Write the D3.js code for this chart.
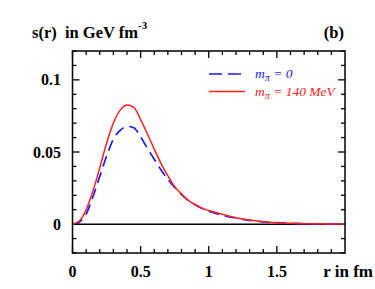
<!DOCTYPE html>
<html><head><meta charset="utf-8">
<script src="https://cdn.jsdelivr.net/npm/d3@7"></script>
<style>html,body{margin:0;padding:0;background:#fff;}svg{display:block;}</style>
</head><body>
<svg id="c" width="375" height="289"></svg>
<script>
const rValues = [0,0.05,0.1,0.15,0.2,0.25,0.3,0.35,0.4,0.45,0.5,0.55,0.6,0.65,0.7,0.75,0.8,0.85,0.9,0.95,1.0,1.1,1.2,1.3,1.4,1.5,1.6,1.7,1.8,1.9,2.0];
const sMassless = [0,0.0015,0.007,0.019,0.033,0.047,0.059,0.065,0.0678,0.0668,0.0605,0.0525,0.045,0.0375,0.031,0.0255,0.0205,0.0165,0.0135,0.011,0.009,0.0062,0.0042,0.0026,0.0016,0.001,0.0006,0.0003,0.0002,0.0001,0.00005];
const sMassive = [0,0.0022,0.010,0.023,0.039,0.056,0.070,0.079,0.0825,0.081,0.0725,0.0625,0.052,0.042,0.0335,0.026,0.021,0.0165,0.0135,0.011,0.0095,0.0068,0.0045,0.0028,0.0017,0.001,0.0006,0.0003,0.0002,0.0001,0.00005];
const xTickLabels = ["0","0.5","1","1.5"];
const xTickValues = [0,0.5,1,1.5];
const yTickLabels = ["0","0.05","0.1"];
const yTickValues = [0,0.05,0.1];

const svg = d3.select("#c");
const L=72.5, R=345, T=51, B=253;
const x = d3.scaleLinear().domain([0,2]).range([L,R]);
const y = d3.scaleLinear().domain([-0.02,0.12]).range([B,T]);
const serif = "'Liberation Serif','DejaVu Serif',serif";
const FS = 16;

const xMinor = d3.range(0,20).map(i=>i/10);
const yMinor = d3.range(-2,13).map(i=>i/100);
const g = svg.append("g");
xMinor.forEach(v=>{
  const major = Math.abs(v*2-Math.round(v*2))<1e-6;
  const len = major?7:4;
  g.append("line").attr("x1",x(v)).attr("x2",x(v)).attr("y1",B).attr("y2",B-len).attr("stroke","#000").attr("stroke-width",1.3);
  g.append("line").attr("x1",x(v)).attr("x2",x(v)).attr("y1",T).attr("y2",T+len).attr("stroke","#000").attr("stroke-width",1.3);
});
yMinor.forEach(v=>{
  const major = Math.abs(v*20-Math.round(v*20))<1e-6;
  const len = major?7:4;
  g.append("line").attr("x1",L).attr("x2",L+len).attr("y1",y(v)).attr("y2",y(v)).attr("stroke","#000").attr("stroke-width",1.3);
  g.append("line").attr("x1",R).attr("x2",R-len).attr("y1",y(v)).attr("y2",y(v)).attr("stroke","#000").attr("stroke-width",1.3);
});

svg.append("line").attr("x1",L).attr("x2",R).attr("y1",y(0)).attr("y2",y(0)).attr("stroke","#000").attr("stroke-width",1.5);

const line = d3.line().x((d,i)=>x(rValues[i])).y(d=>y(d)).curve(d3.curveMonotoneX);
svg.append("path").datum(sMassless).attr("d",line).attr("fill","none").attr("stroke","#1a1aff").attr("stroke-width",1.7).attr("stroke-dasharray","11,6");
svg.append("path").datum(sMassive).attr("d",line).attr("fill","none").attr("stroke","#ff2020").attr("stroke-width",1.5);

svg.append("rect").attr("x",L).attr("y",T).attr("width",R-L).attr("height",B-T).attr("fill","none").attr("stroke","#000").attr("stroke-width",1.5);

xTickValues.forEach((v,i)=>{
  svg.append("text").attr("x",x(v)).attr("y",277).attr("text-anchor","middle")
    .attr("font-family",serif).attr("font-weight","bold").attr("font-size",FS).text(xTickLabels[i]);
});
yTickValues.forEach((v,i)=>{
  svg.append("text").attr("x",61).attr("y",y(v)+5.5).attr("text-anchor","end")
    .attr("font-family",serif).attr("font-weight","bold").attr("font-size",FS).text(yTickLabels[i]);
});
svg.append("text").attr("x",373).attr("y",277).attr("text-anchor","end")
  .attr("font-family",serif).attr("font-weight","bold").attr("font-size",FS+1).text("r in fm");

const t = svg.append("text").attr("x",32).attr("y",38).attr("font-family",serif).attr("font-weight","bold").attr("font-size",FS+0.5);
t.append("tspan").text("s(r)  in GeV fm").attr("style","white-space:pre");
t.append("tspan").attr("dy",-9).attr("font-size",11).text("-3");
svg.append("text").attr("x",344).attr("y",38).attr("text-anchor","end").attr("font-family",serif).attr("font-weight","bold").attr("font-size",FS+0.5).text("(b)");

svg.append("line").attr("x1",209).attr("x2",241).attr("y1",74).attr("y2",74).attr("stroke","#1a1aff").attr("stroke-width",1.7).attr("stroke-dasharray","13,6");
svg.append("line").attr("x1",209).attr("x2",245).attr("y1",91.5).attr("y2",91.5).attr("stroke","#ff2020").attr("stroke-width",1.5);
function legText(yy, val, col){
  const tx = svg.append("text").attr("x",255).attr("y",yy).attr("font-family",serif).attr("font-style","italic").attr("font-size",13.5).attr("fill",col);
  tx.append("tspan").text("m");
  tx.append("tspan").attr("dy",3).attr("font-size",10).text("π");
  tx.append("tspan").attr("dy",-3).text(" = "+val).attr("style","white-space:pre");
}
legText(78,"0","#1a1aff");
legText(96,"140 MeV","#ff2020");
</script>
</body></html>
